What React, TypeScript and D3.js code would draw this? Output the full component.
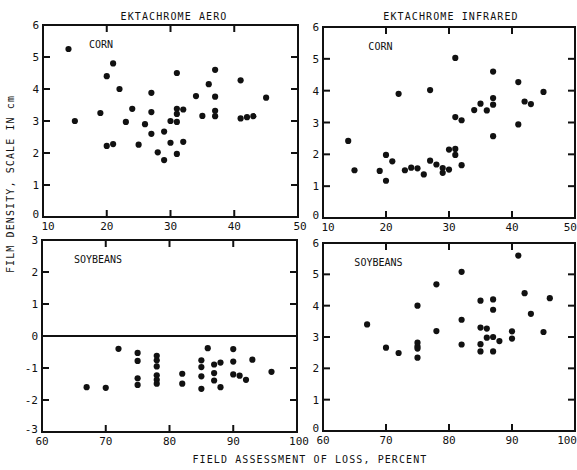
import * as d3 from "d3";

// [loss %, film density cm]
const cornAero: [number, number][] = [
  [14, 5.25], [15, 3.0], [19, 3.25], [20, 4.4], [21, 4.8], [22, 4.0], [20, 2.22], [21, 2.28],
  [23, 2.97], [24, 3.38], [25, 2.26], [26, 2.9], [27, 3.28], [27, 3.88], [27, 2.6], [28, 2.02],
  [29, 1.78], [29, 2.67], [30, 3.0], [30, 2.32], [31, 1.97], [31, 2.97], [31, 4.5], [31, 3.38],
  [31, 3.22], [32, 3.36], [32, 2.35], [34, 3.78], [35, 3.16], [36, 4.15], [37, 3.76], [37, 4.6],
  [37, 3.32], [37, 3.15], [41, 4.27], [41, 3.08], [42, 3.12], [43, 3.15], [45, 3.73],
];

const cornInfrared: [number, number][] = [
  [14, 2.42], [15, 1.5], [19, 1.48], [20, 1.98], [20, 1.17], [21, 1.78], [22, 3.9], [23, 1.5],
  [24, 1.58], [25, 1.56], [26, 1.37], [27, 1.8], [27, 4.02], [28, 1.68], [29, 1.57], [29, 1.42],
  [30, 1.52], [30, 2.15], [31, 2.17], [31, 1.98], [31, 3.17], [31, 5.03], [32, 3.07], [32, 1.66],
  [34, 3.39], [35, 3.59], [36, 3.38], [37, 4.6], [37, 3.77], [37, 3.56], [37, 2.57], [41, 2.94],
  [41, 4.27], [42, 3.66], [43, 3.58], [45, 3.96],
];

const soyAero: [number, number][] = [
  [67, -1.6], [70, -1.62], [72, -0.4], [75, -0.53], [75, -0.78], [75, -1.32], [75, -1.53],
  [78, -0.62], [78, -0.76], [78, -0.95], [78, -1.23], [78, -1.37], [78, -1.49], [82, -1.18],
  [82, -1.49], [85, -0.76], [85, -0.97], [85, -1.26], [85, -1.65], [86, -0.38], [87, -0.89],
  [87, -1.16], [87, -1.39], [88, -0.83], [88, -1.6], [90, -0.41], [90, -0.8], [90, -1.2],
  [91, -1.24], [92, -1.37], [93, -0.74], [96, -1.12],
];

const soyInfrared: [number, number][] = [
  [67, 3.4], [70, 2.66], [72, 2.49], [75, 4.0], [75, 2.82], [75, 2.7], [75, 2.63], [75, 2.34],
  [78, 4.68], [78, 3.19], [82, 5.08], [82, 3.55], [82, 2.76], [85, 4.16], [85, 3.3], [85, 2.77],
  [85, 2.54], [86, 3.27], [86, 2.98], [87, 4.2], [87, 3.87], [87, 3.0], [87, 2.54], [88, 2.87],
  [90, 3.18], [90, 2.95], [91, 5.6], [92, 4.4], [93, 3.74], [95, 3.16], [96, 4.24],
];

const cornXTicks = [10, 20, 30, 40, 50];
const soyXTicks = [60, 70, 80, 90, 100];
const cornYTicks = [0, 1, 2, 3, 4, 5, 6];
const soyAeroYTicks = [-3, -2, -1, 0, 1, 2, 3];

const font = "DejaVu Sans Mono, monospace";

type PanelProps = {
  data: [number, number][];
  xDomain: [number, number];
  yDomain: [number, number];
  xTicks: number[];
  yTicks: number[];
  box: { x0: number; x1: number; y0: number; y1: number };
  crop: string;
  zeroLine?: boolean;
  rightEdge?: boolean;
  nudgeFirst?: boolean;
};

function Panel({ data, xDomain, yDomain, xTicks, yTicks, box, crop, zeroLine, rightEdge, nudgeFirst }: PanelProps) {
  const x = d3.scaleLinear().domain(xDomain).range([box.x0, box.x1]);
  const y = d3.scaleLinear().domain(yDomain).range([box.y1, box.y0]);
  const tl = 7;
  const innerX = xTicks.slice(1, -1);
  const innerY = yTicks.slice(1, -1);
  return (
    <g>
      <rect x={box.x0} y={box.y0} width={box.x1 - box.x0} height={box.y1 - box.y0}
        fill="none" stroke="#111" strokeWidth={2} />
      {innerX.map((t) => (
        <g key={"x" + t}>
          <line x1={x(t)} x2={x(t)} y1={box.y0} y2={box.y0 + tl} stroke="#111" strokeWidth={2} />
          <line x1={x(t)} x2={x(t)} y1={box.y1} y2={box.y1 - tl} stroke="#111" strokeWidth={2} />
        </g>
      ))}
      {innerY.map((t) => (
        <g key={"y" + t}>
          <line x1={box.x0} x2={box.x0 + tl} y1={y(t)} y2={y(t)} stroke="#111" strokeWidth={2} />
          <line x1={box.x1} x2={box.x1 - tl} y1={y(t)} y2={y(t)} stroke="#111" strokeWidth={2} />
        </g>
      ))}
      {zeroLine && (
        <line x1={box.x0} x2={box.x1} y1={y(0)} y2={y(0)} stroke="#111" strokeWidth={2} />
      )}
      {xTicks.map((t, i) => {
        const last = i === xTicks.length - 1;
        const first = i === 0;
        let anchor = "middle";
        let px = x(t);
        if (last && rightEdge) { anchor = "end"; px = 577; }
        else if (last) px = x(t) + 2;
        else if (first && nudgeFirst) px = x(t) + 5;
        return (
          <text key={"xl" + t} x={px} y={box.y1 + 13} textAnchor={anchor}
            fontFamily={font} fontSize={11} fill="#111">
            {t}
          </text>
        );
      })}
      {yTicks.map((t, i) => (
        <text key={"yl" + t} x={box.x0 - 4} y={y(t) + (i === 0 ? 1 : 4)} textAnchor="end"
          fontFamily={font} fontSize={11} fill="#111">
          {t}
        </text>
      ))}
      <text x={x(xDomain[0]) + 0.18 * (box.x1 - box.x0) - (crop === "SOYBEANS" ? 14 : 0)}
        y={box.y0 + 23} fontFamily={font} fontSize={10} fill="#111">
        {crop}
      </text>
      {data.map((d, i) => (
        <circle key={i} cx={x(d[0])} cy={y(d[1])} r={3.1} fill="#111" />
      ))}
    </g>
  );
}

export default function App() {
  return (
    <svg width={577} height={470} style={{ position: "absolute", left: 0, top: 0, background: "#fff" }}>
      <rect width={577} height={470} fill="#fff" />
      <text x={174} y={20} textAnchor="middle" fontFamily={font} fontSize={10} letterSpacing={1.1} fill="#111">
        EKTACHROME AERO
      </text>
      <text x={451} y={20} textAnchor="middle" fontFamily={font} fontSize={10} letterSpacing={1.1} fill="#111">
        EKTACHROME INFRARED
      </text>
      <Panel data={cornAero} xDomain={[10, 50]} yDomain={[0, 6]} xTicks={cornXTicks} yTicks={cornYTicks}
        box={{ x0: 43, x1: 298, y0: 25, y1: 217 }} crop="CORN" nudgeFirst />
      <Panel data={cornInfrared} xDomain={[10, 50]} yDomain={[0, 6]} xTicks={cornXTicks} yTicks={cornYTicks}
        box={{ x0: 323, x1: 575, y0: 27, y1: 218 }} crop="CORN" rightEdge nudgeFirst />
      <Panel data={soyAero} xDomain={[60, 100]} yDomain={[-3, 3]} xTicks={soyXTicks} yTicks={soyAeroYTicks}
        box={{ x0: 42, x1: 297, y0: 240, y1: 432 }} crop="SOYBEANS" zeroLine />
      <Panel data={soyInfrared} xDomain={[60, 100]} yDomain={[0, 6]} xTicks={soyXTicks} yTicks={cornYTicks}
        box={{ x0: 323, x1: 575, y0: 243, y1: 431 }} crop="SOYBEANS" rightEdge />
      <text x={310} y={463} textAnchor="middle" fontFamily={font} fontSize={10} letterSpacing={1.1} fill="#111">
        FIELD ASSESSMENT OF LOSS, PERCENT
      </text>
      <text transform="translate(14,184) rotate(-90)" textAnchor="middle" fontFamily={font} fontSize={10}
        letterSpacing={1.1} fill="#111">
        FILM DENSITY, SCALE IN cm
      </text>
    </svg>
  );
}
